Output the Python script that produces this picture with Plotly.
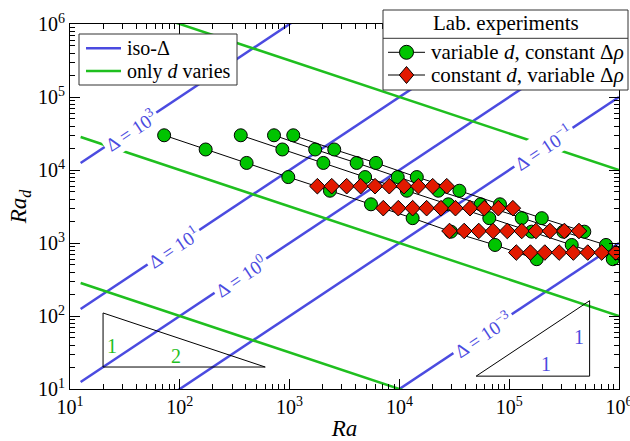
import plotly.graph_objects as go

# ---------------- data ----------------
# iso-Delta lines: Ra_d = Delta * Ra
delta_exps = [3, 1, 0, -1, -3]
delta_label_logRa = [1.55, 1.94, 2.55, 5.31, 4.76]
delta_label_text = ["Δ = 10<sup>3</sup>", "Δ = 10<sup>1</sup>", "Δ = 10<sup>0</sup>",
                    "Δ = 10<sup>−1</sup>", "Δ = 10<sup>−3</sup>"]
# "only d varies" lines: Ra_d = C * Ra^(-1/2)
green_C = [1e3, 1e5, 1e7]
line_Ra = [12.5, 1e6]

# variable d, constant delta-rho (circles)
s1_Ra = [72, 172, 406, 973, 2330, 5510, 13200, 29500, 74300, 178000]
s1_Rad = [29900, 19100, 12500, 8000, 5200, 3390, 2190, 1430, 940, 600]
s2_Ra = [359, 859, 2030, 4870, 11700, 27900, 65900, 160000, 371000, 877000]
s2_Rad = [29900, 19100, 12500, 8000, 5200, 3390, 2190, 1430, 940, 600]
s3_Ra = [721, 1710, 4080, 9650, 22600, 54900, 130000, 311000, 762000]
s3_Rad = [29900, 19100, 12500, 8000, 5200, 3390, 2190, 1430, 940]
s4_Ra = [1080, 2550, 6120, 14400, 35200, 82400, 198000, 483000]
s4_Rad = [29900, 19100, 12500, 8000, 5200, 3390, 2190, 1430]

# constant d, variable delta-rho (diamonds)
d1_Ra = [1790, 2420, 3310, 4440, 6000, 8090, 11000, 14900, 20100, 27000]
d1_Rad = [6000] * 10
d2_Ra = [7130, 9770, 13200, 17700, 23900, 32400, 44000, 59300, 79600, 108000]
d2_Rad = [3000] * 10
d3_Ra = [28600, 38900, 52800, 71200, 96100, 130000, 175000, 235000, 318000, 432000]
d3_Rad = [1460] * 10
d4_Ra = [116000, 156000, 211000, 285000, 384000, 519000, 696000, 935000]
d4_Rad = [740] * 8

# slope triangles
tri1_Ra = [20, 20, 600, 20]
tri1_Rad = [110, 20, 20, 110]
tri2_Ra = [5e4, 5.4e5, 5.4e5, 5e4]
tri2_Rad = [15, 15, 162, 15]

tick_vals = [10, 100, 1000, 1e4, 1e5, 1e6]
tick_text = ["10<sup>1</sup>", "10<sup>2</sup>", "10<sup>3</sup>",
             "10<sup>4</sup>", "10<sup>5</sup>", "10<sup>6</sup>"]
minor_vals = [m * 10 ** e for e in range(1, 6) for m in range(2, 10)]

legend1_labels = ["iso-Δ", "only <i>d</i> varies"]
legend2_title = "Lab. experiments"
legend2_labels = ["variable <i>d</i>, constant Δ<i>ρ</i>",
                  "constant <i>d</i>, variable Δ<i>ρ</i>"]

# ---------------- style ----------------
BLUE = "#4b4be0"
GREEN_L = "#1fbf1f"
GREEN_M = "#00c400"
RED = "#e21a00"
FONT = "Liberation Serif"
W, H = 630, 441
ML, MR, MT, MB = 70, 11, 24, 52
PW, PH = W - ML - MR, H - MT - MB


def px(x):
    return (x - ML) / PW


def py(y):
    return (H - MB - y) / PH


fig = go.Figure()

for e in delta_exps:
    fig.add_trace(go.Scatter(
        x=line_Ra, y=[(10 ** e) * r for r in line_Ra], mode="lines",
        line=dict(color=BLUE, width=2.5), showlegend=False, hoverinfo="skip"))

for c in green_C:
    fig.add_trace(go.Scatter(
        x=line_Ra, y=[c * r ** -0.5 for r in line_Ra], mode="lines",
        line=dict(color=GREEN_L, width=2.5), showlegend=False, hoverinfo="skip"))

for tx, ty in [(tri1_Ra, tri1_Rad), (tri2_Ra, tri2_Rad)]:
    fig.add_trace(go.Scatter(x=tx, y=ty, mode="lines",
                             line=dict(color="black", width=1), showlegend=False,
                             hoverinfo="skip"))

circ = [(s1_Ra, s1_Rad), (s2_Ra, s2_Rad), (s3_Ra, s3_Rad), (s4_Ra, s4_Rad)]
for sx, sy in circ:
    fig.add_trace(go.Scatter(
        x=sx, y=sy, mode="lines+markers",
        line=dict(color="black", width=1),
        marker=dict(symbol="circle", size=13, color=GREEN_M,
                    line=dict(color="black", width=1)),
        name=legend2_labels[0], showlegend=False))

dia = [(d1_Ra, d1_Rad), (d2_Ra, d2_Rad), (d3_Ra, d3_Rad), (d4_Ra, d4_Rad)]
for sx, sy in dia:
    fig.add_trace(go.Scatter(
        x=sx, y=sy, mode="lines+markers",
        line=dict(color="black", width=1),
        marker=dict(symbol="diamond", size=12, color=RED,
                    line=dict(color="black", width=1)),
        name=legend2_labels[1], showlegend=False))

annotations = []
for lx, e, t in zip(delta_label_logRa, delta_exps, delta_label_text):
    annotations.append(dict(x=lx, y=lx + e, xref="x", yref="y", text=t,
                            showarrow=False, textangle=-33.6,
                            font=dict(family=FONT, size=19, color=BLUE),
                            bgcolor="white", borderpad=2))
tri_labels = [(1.383, 1.589, "1", GREEN_L), (1.965, 1.452, "2", GREEN_L),
              (5.636, 1.712, "1", BLUE), (5.335, 1.342, "1", BLUE)]
for lx, ly, t, col in tri_labels:
    annotations.append(dict(x=lx, y=ly, xref="x", yref="y", text=t, showarrow=False,
                            font=dict(family=FONT, size=20, color=col)))

# ---------------- hand-drawn legends ----------------
shapes = []
# legend 1
shapes.append(dict(type="rect", xref="paper", yref="paper", x0=px(79), x1=px(237),
                   y0=py(34), y1=py(85), fillcolor="white",
                   line=dict(color="#333", width=1)))
for yy, col, lab in [(48.3, BLUE, legend1_labels[0]), (71, GREEN_L, legend1_labels[1])]:
    shapes.append(dict(type="line", xref="paper", yref="paper", x0=px(86), x1=px(121),
                       y0=py(yy), y1=py(yy), line=dict(color=col, width=2.5)))
    annotations.append(dict(xref="paper", yref="paper", x=px(125), y=py(yy), text=lab,
                            xanchor="left", yanchor="middle", showarrow=False,
                            font=dict(family=FONT, size=20, color="black")))
# legend 2
shapes.append(dict(type="rect", xref="paper", yref="paper", x0=px(383), x1=px(628),
                   y0=py(10), y1=py(90), fillcolor="white",
                   line=dict(color="#333", width=1)))
shapes.append(dict(type="line", xref="paper", yref="paper", x0=px(383), x1=px(628),
                   y0=py(38.3), y1=py(38.3), line=dict(color="#333", width=1)))
annotations.append(dict(xref="paper", yref="paper", x=px(506), y=py(23.5),
                        text=legend2_title, xanchor="center", yanchor="middle",
                        showarrow=False, font=dict(family=FONT, size=21, color="black")))
for yy, kind, lab in [(52.3, "circle", legend2_labels[0]), (75, "diamond", legend2_labels[1])]:
    shapes.append(dict(type="line", xref="paper", yref="paper", x0=px(388), x1=px(425),
                       y0=py(yy), y1=py(yy), line=dict(color="black", width=1)))
    if kind == "circle":
        shapes.append(dict(type="circle", xref="paper", yref="paper",
                           xsizemode="pixel", ysizemode="pixel",
                           xanchor=px(406.5), yanchor=py(yy), x0=-7, x1=7, y0=-7, y1=7,
                           fillcolor=GREEN_M, line=dict(color="black", width=1)))
    else:
        shapes.append(dict(type="path", xref="paper", yref="paper",
                           xsizemode="pixel", ysizemode="pixel",
                           xanchor=px(406.5), yanchor=py(yy),
                           path="M0,-8.5 L7.2,0 L0,8.5 L-7.2,0 Z",
                           fillcolor=RED, line=dict(color="black", width=1)))
    annotations.append(dict(xref="paper", yref="paper", x=px(429), y=py(yy), text=lab,
                            xanchor="left", yanchor="middle", showarrow=False,
                            font=dict(family=FONT, size=21, color="black")))

axis_common = dict(
    type="log", range=[1, 6], tickmode="array", tickvals=tick_vals, ticktext=tick_text,
    ticks="inside", ticklen=10, tickcolor="black", tickwidth=1,
    showline=True, linecolor="black", linewidth=1, mirror="ticks",
    showgrid=False, zeroline=False, automargin=False, ticklabeloverflow="allow",
    tickfont=dict(family=FONT, size=20, color="black"),
    minor=dict(tickmode="array", tickvals=minor_vals, ticks="inside", ticklen=5,
               tickcolor="black", tickwidth=1, showgrid=False),
)

fig.update_layout(
    width=W, height=H,
    margin=dict(l=ML, r=MR, t=MT, b=MB),
    plot_bgcolor="white", paper_bgcolor="white",
    font=dict(family=FONT, size=20, color="black"),
    xaxis=dict(axis_common, title=dict(text="<i>Ra</i>", font=dict(family=FONT, size=23),
                                       standoff=6)),
    yaxis=dict(axis_common, title=dict(text="<i>Ra</i><sub><i>d</i></sub>",
                                       font=dict(family=FONT, size=23), standoff=4)),
    annotations=annotations,
    shapes=shapes,
    showlegend=False,
)

fig.write_html("out.html")
